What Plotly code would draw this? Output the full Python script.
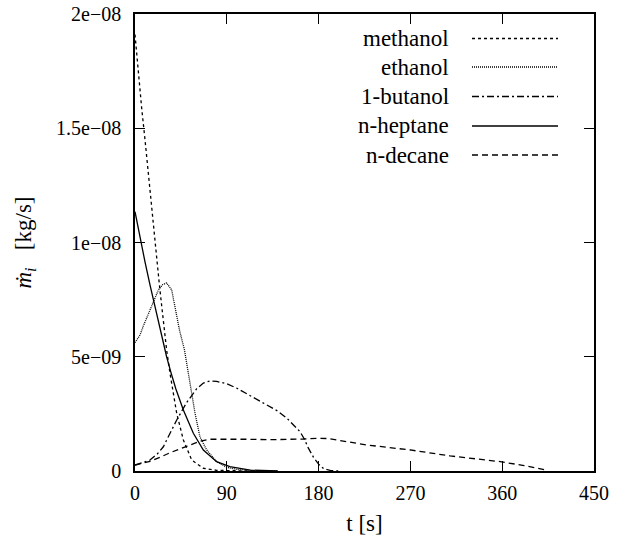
import plotly.graph_objects as go

# ---- data (t in s, mass flow in kg/s) ----
t_methanol = [0, 3.3, 6.5, 9.8, 13, 15.7, 18, 21.3, 23.8, 25.5, 27.8, 31, 34.3, 37.5, 40.9, 47.4, 55.6, 67, 80, 100, 130]
m_methanol = [19.1e-9, 17.4e-9, 15.9e-9, 14.5e-9, 13.0e-9, 11.9e-9, 10.7e-9, 9.25e-9, 8.2e-9, 7.5e-9, 6.46e-9, 5.3e-9,
              4.28e-9, 3.5e-9, 2.52e-9, 1.36e-9, 0.48e-9, 0.12e-9, 0.03e-9, 0.01e-9, 0.0]

t_ethanol = [0, 4.9, 8.2, 14.7, 18, 22.9, 27, 31, 36, 39.2, 43.6, 48.5, 53.4, 58.8, 63.7, 70.3, 80, 90, 100, 115, 140]
m_ethanol = [5.62e-9, 5.95e-9, 6.35e-9, 7.05e-9, 7.4e-9, 7.92e-9, 8.15e-9, 8.23e-9, 7.92e-9, 7.22e-9, 6.17e-9, 5.3e-9,
             3.98e-9, 2.54e-9, 1.49e-9, 0.92e-9, 0.41e-9, 0.16e-9, 0.07e-9, 0.02e-9, 0.0]

t_butanol = [0, 14.7, 22, 27.8, 31, 40.9, 50.7, 60.5, 67, 73.5, 80, 89.9, 100, 112.7, 129.1, 140, 148.7, 155, 161.8,
             166, 170, 175, 180, 185, 192, 200]
m_butanol = [0.26e-9, 0.48e-9, 0.75e-9, 1.06e-9, 1.35e-9, 2.23e-9, 3.0e-9, 3.6e-9, 3.85e-9, 3.94e-9, 3.92e-9, 3.82e-9,
             3.62e-9, 3.3e-9, 2.92e-9, 2.62e-9, 2.32e-9, 2.05e-9, 1.72e-9, 1.4e-9, 1.0e-9, 0.6e-9, 0.3e-9, 0.1e-9,
             0.02e-9, 0.0]

t_heptane = [0, 4.9, 9.8, 14.7, 19.6, 22.9, 27, 31, 35, 40, 47.4, 57.2, 67, 80, 93, 113, 140]
m_heptane = [11.35e-9, 10.2e-9, 9.15e-9, 8.15e-9, 7.2e-9, 6.55e-9, 5.75e-9, 5.0e-9, 4.35e-9, 3.6e-9, 2.67e-9, 1.65e-9,
             0.92e-9, 0.41e-9, 0.19e-9, 0.04e-9, 0.0]

t_decane = [0, 14.7, 24.5, 34.3, 50.7, 63.7, 73.5, 90, 110, 132, 150, 165, 180, 190, 200, 227, 270, 309, 358, 380, 402]
m_decane = [0.26e-9, 0.42e-9, 0.6e-9, 0.8e-9, 1.08e-9, 1.3e-9, 1.39e-9, 1.4e-9, 1.39e-9, 1.37e-9, 1.38e-9, 1.4e-9,
            1.43e-9, 1.42e-9, 1.34e-9, 1.14e-9, 0.92e-9, 0.66e-9, 0.41e-9, 0.25e-9, 0.05e-9]

names = ["methanol", "ethanol", "1-butanol", "n-heptane", "n-decane"]
x_ticks = [0, 90, 180, 270, 360, 450]
y_ticks = [0, 5e-9, 1e-8, 1.5e-8, 2e-8]
y_ticktext = ["0", "5e\u221209", "1e\u221208", "1.5e\u221208", "2e\u221208"]

series = [(t_methanol, m_methanol), (t_ethanol, m_ethanol), (t_butanol, m_butanol),
          (t_heptane, m_heptane), (t_decane, m_decane)]
dashes = ["3px,3px", "1px,1px", "7px,3px,2px,3px", "solid", "6px,4px"]

FONT = "Liberation Serif"

fig = go.Figure()
for (tx, my), name, d in zip(series, names, dashes):
    fig.add_trace(go.Scatter(x=tx, y=my, mode="lines", name=name,
                             line=dict(color="black", width=1.3, dash=d),
                             showlegend=False))

# legend drawn as text + sample line inside the plot (text to the left of the sample)
L0, L1 = (472 - 135) / 459, (558 - 135) / 459
TX = (451 - 135) / 459
row_px = [38.5, 67, 96.5, 126, 155]
for name, d, ry in zip(names, dashes, row_px):
    yp = (471 - ry) / 457
    fig.add_annotation(x=TX, y=yp, xref="paper", yref="paper", text=name, showarrow=False,
                       xanchor="right", yanchor="middle", font=dict(family=FONT, size=23))
    fig.add_shape(type="line", xref="paper", yref="paper", x0=L0, x1=L1, y0=yp, y1=yp,
                  line=dict(color="black", width=1.3, dash=d))

fig.update_xaxes(range=[0, 450], tickvals=x_ticks, ticktext=[str(v) for v in x_ticks],
                 showgrid=False, zeroline=False, showline=True, linecolor="black", linewidth=1.6,
                 mirror="ticks", ticks="inside", ticklen=10, tickwidth=1.2, tickcolor="black",
                 automargin=False, ticklabelstandoff=3,
                 tickfont=dict(family=FONT, size=20),
                 title=dict(text="t [s]", font=dict(family=FONT, size=23), standoff=12))
fig.update_yaxes(range=[0, 2e-8], tickvals=y_ticks, ticktext=y_ticktext,
                 showgrid=False, zeroline=False, showline=True, linecolor="black", linewidth=1.6,
                 mirror="ticks", ticks="inside", ticklen=10, tickwidth=1.2, tickcolor="black",
                 automargin=False, ticklabelstandoff=8,
                 tickfont=dict(family=FONT, size=20),
                 title=dict(text="<i>\u1e41</i><sub><i>i</i></sub>\u00a0\u00a0\u00a0[kg/s]",
                            font=dict(family=FONT, size=23), standoff=18))

fig.update_layout(width=617, height=536, margin=dict(l=135, r=23, t=14, b=65),
                  font=dict(color="black"),
                  plot_bgcolor="white", paper_bgcolor="white", showlegend=False)

fig.write_html("out.html")
